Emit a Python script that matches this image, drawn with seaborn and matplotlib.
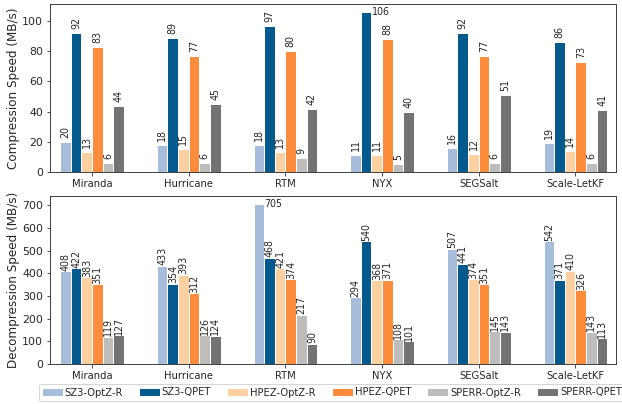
import numpy as np
import pandas as pd
import matplotlib
matplotlib.use("Agg")
import matplotlib.pyplot as plt
from matplotlib.patches import Patch
import seaborn as sns

datasets = ["Miranda", "Hurricane", "RTM", "NYX", "SEGSalt", "Scale-LetKF"]
methods = ["SZ3-OptZ-R", "SZ3-QPET", "HPEZ-OptZ-R", "HPEZ-QPET", "SPERR-OptZ-R", "SPERR-QPET"]
colors = ["#a6bddb", "#045a8d", "#fdd0a2", "#fd8d3c", "#bdbdbd", "#737373"]

# compression speed (MB/s), one list per method, in dataset order
comp_sz3_optz = [20, 18, 18, 11, 16, 19]
comp_sz3_qpet = [92, 89, 97, 106, 92, 86]
comp_hpez_optz = [13, 15, 13, 11, 12, 14]
comp_hpez_qpet = [83, 77, 80, 88, 77, 73]
comp_sperr_optz = [6, 6, 9, 5, 6, 6]
comp_sperr_qpet = [44, 45, 42, 40, 51, 41]

# decompression speed (MB/s)
decomp_sz3_optz = [408, 433, 705, 294, 507, 542]
decomp_sz3_qpet = [422, 354, 468, 540, 441, 371]
decomp_hpez_optz = [383, 393, 421, 368, 374, 410]
decomp_hpez_qpet = [351, 312, 374, 371, 351, 326]
decomp_sperr_optz = [119, 126, 217, 108, 145, 143]
decomp_sperr_qpet = [127, 124, 90, 101, 143, 113]

comp = [comp_sz3_optz, comp_sz3_qpet, comp_hpez_optz, comp_hpez_qpet,
        comp_sperr_optz, comp_sperr_qpet]
decomp = [decomp_sz3_optz, decomp_sz3_qpet, decomp_hpez_optz, decomp_hpez_qpet,
          decomp_sperr_optz, decomp_sperr_qpet]


def to_frame(series):
    rows = []
    for m, vals in zip(methods, series):
        for d, v in zip(datasets, vals):
            rows.append({"dataset": d, "method": m, "speed": v})
    return pd.DataFrame(rows)


sns.set_style("ticks")
plt.rcParams["font.family"] = ["DejaVu Sans"]
plt.rcParams["font.size"] = 10

fig = plt.figure(figsize=(622 / 72, 404 / 72), dpi=72)
ax_top = fig.add_axes([0.0804, 0.5743, 0.910, 0.4158])
ax_bot = fig.add_axes([0.0804, 0.0990, 0.910, 0.4158])


def draw(ax, series, ylabel, yticks, pad):
    df = to_frame(series)
    sns.barplot(data=df, x="dataset", y="speed", hue="method", order=datasets,
                hue_order=methods, palette=colors, width=0.66, gap=0,
                saturation=1, legend=False, ax=ax, errorbar=None)
    vmax = max(max(s) for s in series)
    for cont, vals in zip(ax.containers, series):
        for bar, v in zip(cont.patches, vals):
            x = bar.get_x() + bar.get_width() / 2
            h = bar.get_height()
            if v == vmax:
                ax.annotate(f"{v}", (bar.get_x() + bar.get_width(), h),
                            ha="left", va="center", fontsize=9.5)
            else:
                ax.annotate(f"{v}", (x, h), xytext=(0, pad),
                            textcoords="offset points", ha="center",
                            va="bottom", rotation=90, fontsize=9.5)
    ax.set_ylim(0, vmax * 1.05)
    ax.set_xlim(-0.435, 5.42)
    ax.set_yticks(yticks)
    ax.set_xlabel("")
    ax.set_ylabel(ylabel, fontsize=12)
    ax.yaxis.set_label_coords(-0.053, 0.5)
    ax.tick_params(axis="x", labelsize=10)
    ax.tick_params(axis="y", labelsize=11)
    for s in ax.spines.values():
        s.set_color("#444444")
        s.set_linewidth(1.0)


draw(ax_top, comp, "Compression Speed (MB/s)", range(0, 101, 20), 4)
draw(ax_bot, decomp, "Decompression Speed (MB/s)", range(0, 701, 100), 0.5)

handles = [Patch(facecolor=c, edgecolor="none", label=m) for m, c in zip(methods, colors)]
fig.legend(handles=handles, loc="upper left", bbox_to_anchor=(39 / 622, 1 - 384 / 404),
           ncol=6, fontsize=10, frameon=True, borderaxespad=0, handlelength=2.0,
           handleheight=0.7, handletextpad=0.2, columnspacing=1.7,
           borderpad=0.35, edgecolor="#cccccc")

fig.savefig("out.png", dpi=72)
